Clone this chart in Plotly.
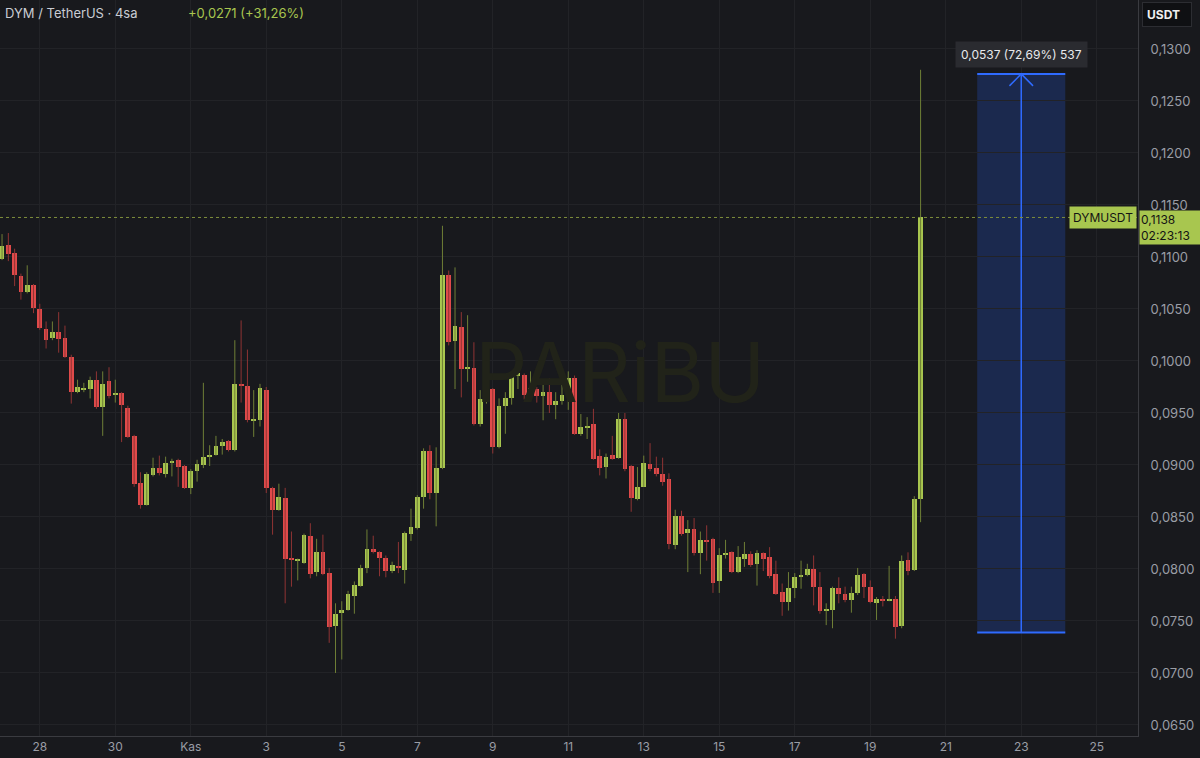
import pandas as pd
import plotly.graph_objects as go

# ---------------- data (4h candles, DYM/USDT) ----------------
start_time = "2025-10-27 00:00"
candle_hours = 4

opens = [0.1098,0.1112,0.1104,0.1082,0.1066,0.1073,0.1050,0.1031,0.1022,0.1028,
         0.1022,0.1004,0.0970,0.0972,0.0973,0.0982,0.0956,0.0981,0.0967,0.0969,
         0.0955,0.0928,0.0883,0.0862,0.0890,0.0897,0.0891,0.0902,0.0905,0.0899,
         0.0878,0.0894,0.0900,0.0908,0.0910,0.0918,0.0923,0.0914,0.0978,0.0976,
         0.0943,0.0943,0.0972,0.0878,0.0857,0.0868,0.0810,0.0808,0.0806,0.0832,
         0.0797,0.0816,0.0796,0.0745,0.0758,0.0761,0.0774,0.0784,0.0801,0.0819,
         0.0816,0.0811,0.0798,0.0803,0.0799,0.0834,0.0839,0.0869,0.0913,0.0873,
         0.0897,0.1083,0.1019,0.1033,0.0992,0.0993,0.0939,0.0963,0.0973,0.0917,
         0.0957,0.0964,0.0986,0.0987,0.0967,0.0973,0.0966,0.0970,0.0958,0.0962,
         0.0967,0.0984,0.0930,0.0936,0.0939,0.0909,0.0898,0.0910,0.0907,0.0944,
         0.0899,0.0867,0.0879,0.0901,0.0897,0.0891,0.0887,0.0823,0.0851,0.0835,
         0.0838,0.0815,0.0828,0.0829,0.0788,0.0813,0.0816,0.0797,0.0810,0.0814,
         0.0805,0.0815,0.0812,0.0795,0.0778,0.0768,0.0782,0.0792,0.0794,0.0800,
         0.0783,0.0760,0.0761,0.0782,0.0776,0.0770,0.0777,0.0795,0.0783,0.0767,
         0.0771,0.0770,0.0771,0.0745,0.0809,0.0799,0.0867]
highs = [0.1122,0.1123,0.1108,0.1084,0.1092,0.1074,0.1055,0.1038,0.1038,0.1047,
         0.1034,0.1006,0.0982,0.0979,0.0985,0.0990,0.0990,0.0994,0.0982,0.0970,
         0.0957,0.0929,0.0893,0.0893,0.0907,0.0909,0.0908,0.0906,0.0906,0.0900,
         0.0896,0.0905,0.0979,0.0919,0.0928,0.0925,0.0924,0.1020,0.1039,0.1011,
         0.0972,0.0978,0.0975,0.0879,0.0882,0.0878,0.0836,0.0810,0.0834,0.0844,
         0.0829,0.0833,0.0801,0.0767,0.0769,0.0779,0.0788,0.0804,0.0838,0.0832,
         0.0817,0.0813,0.0807,0.0826,0.0836,0.0858,0.0871,0.0916,0.0919,0.0917,
         0.1130,0.1087,0.1090,0.1047,0.1044,0.1018,0.0972,0.0981,0.0974,0.0964,
         0.0970,0.0989,0.0999,0.0988,0.0990,0.0975,0.0982,0.0983,0.0970,0.0987,
         0.0990,0.0986,0.0949,0.0946,0.0954,0.0915,0.0911,0.0928,0.0950,0.0950,
         0.0900,0.0898,0.0909,0.0921,0.0908,0.0907,0.0892,0.0857,0.0856,0.0847,
         0.0849,0.0836,0.0842,0.0830,0.0820,0.0828,0.0817,0.0822,0.0826,0.0817,
         0.0818,0.0816,0.0821,0.0808,0.0786,0.0797,0.0796,0.0808,0.0805,0.0813,
         0.0797,0.0767,0.0783,0.0792,0.0783,0.0783,0.0801,0.0796,0.0789,0.0773,
         0.0774,0.0803,0.0774,0.0813,0.0816,0.0870,0.1280]
lows = [0.1097,0.1096,0.1072,0.1059,0.1065,0.1046,0.1030,0.1012,0.1020,0.1008,
        0.1003,0.0959,0.0969,0.0970,0.0964,0.0954,0.0928,0.0964,0.0960,0.0922,
        0.0926,0.0879,0.0858,0.0861,0.0889,0.0890,0.0888,0.0889,0.0879,0.0877,
        0.0872,0.0884,0.0897,0.0899,0.0909,0.0910,0.0913,0.0913,0.0960,0.0941,
        0.0927,0.0937,0.0873,0.0833,0.0856,0.0767,0.0783,0.0789,0.0805,0.0791,
        0.0793,0.0794,0.0729,0.0700,0.0713,0.0760,0.0757,0.0783,0.0796,0.0815,
        0.0793,0.0792,0.0796,0.0796,0.0786,0.0827,0.0838,0.0858,0.0867,0.0841,
        0.0896,0.1015,0.0973,0.0965,0.0980,0.0938,0.0937,0.0959,0.0911,0.0916,
        0.0930,0.0958,0.0973,0.0963,0.0965,0.0960,0.0943,0.0950,0.0944,0.0958,
        0.0953,0.0929,0.0928,0.0925,0.0905,0.0890,0.0887,0.0905,0.0906,0.0894,
        0.0855,0.0866,0.0879,0.0894,0.0889,0.0880,0.0819,0.0819,0.0832,0.0797,
        0.0813,0.0795,0.0808,0.0777,0.0777,0.0810,0.0796,0.0796,0.0802,0.0802,
        0.0784,0.0798,0.0791,0.0775,0.0755,0.0760,0.0772,0.0781,0.0793,0.0765,
        0.0757,0.0746,0.0743,0.0767,0.0768,0.0758,0.0775,0.0772,0.0767,0.0751,
        0.0764,0.0769,0.0733,0.0743,0.0794,0.0798,0.0845]
closes = [0.1111,0.1103,0.1083,0.1066,0.1073,0.1051,0.1032,0.1020,0.1028,0.1021,
          0.1004,0.0970,0.0975,0.0974,0.0982,0.0956,0.0978,0.0966,0.0969,0.0958,
          0.0927,0.0882,0.0862,0.0891,0.0897,0.0892,0.0902,0.0903,0.0898,0.0878,
          0.0894,0.0901,0.0908,0.0910,0.0918,0.0922,0.0914,0.0978,0.0976,0.0943,
          0.0944,0.0974,0.0878,0.0857,0.0869,0.0810,0.0809,0.0809,0.0833,0.0795,
          0.0816,0.0795,0.0744,0.0757,0.0761,0.0776,0.0785,0.0801,0.0819,0.0816,
          0.0811,0.0798,0.0804,0.0801,0.0835,0.0840,0.0869,0.0913,0.0873,0.0897,
          0.1083,0.1018,0.1034,0.0992,0.0994,0.0939,0.0963,0.0973,0.0917,0.0957,
          0.0964,0.0986,0.0988,0.0967,0.0974,0.0966,0.0970,0.0958,0.0962,0.0967,
          0.0984,0.0930,0.0937,0.0937,0.0906,0.0897,0.0908,0.0906,0.0944,0.0896,
          0.0868,0.0879,0.0902,0.0896,0.0891,0.0884,0.0824,0.0851,0.0834,0.0838,
          0.0815,0.0828,0.0826,0.0787,0.0813,0.0815,0.0797,0.0812,0.0814,0.0804,
          0.0815,0.0810,0.0793,0.0776,0.0768,0.0782,0.0792,0.0794,0.0800,0.0783,
          0.0760,0.0762,0.0782,0.0776,0.0770,0.0777,0.0794,0.0783,0.0768,0.0771,
          0.0770,0.0771,0.0744,0.0808,0.0798,0.0867,0.1138]

last_price = 0.1138
symbol = "DYMUSDT"
countdown = "02:23:13"
header_title = "DYM / TetherUS · 4sa"
header_change = "+0,0271 (+31,26%)"

measure_low = 0.0739
measure_high = 0.1276
measure_start = "2025-11-21 20:00"
measure_mid = "2025-11-23 00:00"
measure_end = "2025-11-24 04:00"
measure_text = "0,0537 (72,69%) 537"

x_tick_dates = ["2025-10-28", "2025-10-30", "2025-11-01", "2025-11-03", "2025-11-05",
                "2025-11-07", "2025-11-09", "2025-11-11", "2025-11-13", "2025-11-15",
                "2025-11-17", "2025-11-19", "2025-11-21", "2025-11-23", "2025-11-25"]
x_tick_labels = ["28", "30", "Kas", "3", "5", "7", "9", "11", "13", "15", "17", "19", "21", "23", "25"]
y_tick_values = [0.0650, 0.0700, 0.0750, 0.0800, 0.0850, 0.0900, 0.0950, 0.1000,
                 0.1050, 0.1100, 0.1150, 0.1200, 0.1250, 0.1300]
y_tick_labels = [f"{v:.4f}".replace(".", ",") for v in y_tick_values]

# ---------------- styling ----------------
BG = "#18191d"
GRID = "#222327"
UP = "#a8c64f"
UP_WICK = "#6f7f36"
DOWN = "#e04a4a"
DOWN_WICK = "#8f3434"
AXIS_TXT = "#9a9da5"
FONT = "Inter"

times = pd.date_range(start=start_time, periods=len(opens), freq=f"{candle_hours}h")
bar_w = candle_hours * 3600 * 1000 * 0.76
min_body = 0.0001

up_x, up_base, up_h = [], [], []
dn_x, dn_base, dn_h = [], [], []
uw_x, uw_y, dw_x, dw_y = [], [], [], []
for t, o, h, l, c in zip(times, opens, highs, lows, closes):
    if c >= o:
        up_x.append(t); up_base.append(o); up_h.append(max(c - o, min_body))
        uw_x += [t, t, None]; uw_y += [l, h, None]
    else:
        dn_x.append(t); dn_base.append(c); dn_h.append(max(o - c, min_body))
        dw_x += [t, t, None]; dw_y += [l, h, None]

fig = go.Figure()
fig.add_trace(go.Scatter(x=uw_x, y=uw_y, mode="lines", line=dict(color=UP_WICK, width=1),
                         hoverinfo="skip", showlegend=False))
fig.add_trace(go.Scatter(x=dw_x, y=dw_y, mode="lines", line=dict(color=DOWN_WICK, width=1),
                         hoverinfo="skip", showlegend=False))
fig.add_trace(go.Bar(x=up_x, y=up_h, base=up_base, width=bar_w, marker=dict(color=UP, line=dict(width=0)),
                     showlegend=False))
fig.add_trace(go.Bar(x=dn_x, y=dn_h, base=dn_base, width=bar_w, marker=dict(color=DOWN, line=dict(width=0)),
                     showlegend=False))

# measure arrow head (open chevron)
half = pd.Timedelta(hours=7.5)
mid_t = pd.Timestamp(measure_mid)
fig.add_trace(go.Scatter(x=[mid_t - half, mid_t, mid_t + half],
                         y=[measure_high - 0.00115, measure_high, measure_high - 0.00115],
                         mode="lines", line=dict(color="#2f6bff", width=1.5),
                         hoverinfo="skip", showlegend=False))

shapes = [
    dict(type="rect", xref="x", yref="y", x0=measure_start, x1=measure_end,
         y0=measure_low, y1=measure_high, fillcolor="rgba(41,98,255,0.22)", line=dict(width=0), layer="below"),
    dict(type="line", xref="x", yref="y", x0=measure_start, x1=measure_end,
         y0=measure_high, y1=measure_high, line=dict(color="#2f6bff", width=2)),
    dict(type="line", xref="x", yref="y", x0=measure_start, x1=measure_end,
         y0=measure_low, y1=measure_low, line=dict(color="#2f6bff", width=2)),
    dict(type="line", xref="x", yref="y", x0=measure_mid, x1=measure_mid,
         y0=measure_low, y1=measure_high, line=dict(color="#2f6bff", width=1.5)),
    dict(type="line", xref="paper", yref="y", x0=0, x1=1, y0=last_price, y1=last_price,
         line=dict(color="#7f8f3c", width=1, dash="dot")),
]

PW, PH = 1138.0, 736.0
def px(x):
    return x / PW
def py(y):
    return 1 - y / PH

annotations = [
    dict(text="PARiBU", x=px(620), y=py(373), xref="paper", yref="paper", showarrow=False,
         font=dict(family=FONT, size=82, color="#212319"), xanchor="center", yanchor="middle"),
    dict(text=header_title, x=px(3), y=py(13), xref="paper", yref="paper", showarrow=False,
         font=dict(family=FONT, size=13, color="#c9ccd3"), xanchor="left", yanchor="middle"),
    dict(text=header_change, x=px(186), y=py(13), xref="paper", yref="paper", showarrow=False,
         font=dict(family=FONT, size=13, color=UP), xanchor="left", yanchor="middle"),
    dict(text=measure_text, x=measure_mid, y=py(55), xref="x", yref="paper", showarrow=False,
         font=dict(family=FONT, size=12, color="#e8e9ec"), bgcolor="#2a2b30", borderpad=5,
         xanchor="center", yanchor="middle"),
    dict(text=symbol, x=px(1137), y=last_price, xref="paper", yref="y", showarrow=False,
         font=dict(family=FONT, size=12, color="#141414"), bgcolor=UP, borderpad=3,
         xanchor="right", yanchor="middle"),
    dict(text=f"{last_price:.4f}".replace(".", ",") + "<br>" + countdown, x=px(1139),
         y=py(227), xref="paper", yref="paper", showarrow=False, align="left",
         font=dict(family=FONT, size=12, color="#141414"), bgcolor=UP, borderpad=1, width=58,
         xanchor="left", yanchor="middle"),
    dict(text="<b>USDT</b>", x=px(1142), y=py(14), xref="paper", yref="paper", showarrow=False,
         font=dict(family=FONT, size=12, color="#f0f0f0"), bgcolor="#0f1013", bordercolor="#2c2d32",
         borderwidth=1, borderpad=4, width=40, align="left", xanchor="left", yanchor="middle"),
]

fig.update_layout(
    width=1200, height=758, autosize=False,
    margin=dict(l=0, r=62, t=0, b=22),
    paper_bgcolor=BG, plot_bgcolor=BG,
    barmode="overlay", bargap=0,
    showlegend=False,
    shapes=shapes, annotations=annotations,
    font=dict(family=FONT, color=AXIS_TXT),
    xaxis=dict(type="date", range=["2025-10-26 22:42", "2025-11-26 02:14"],
               tickmode="array", tickvals=x_tick_dates, ticktext=x_tick_labels,
               showgrid=True, gridcolor=GRID, gridwidth=1, zeroline=False,
               showline=True, linecolor="#3a3b40", linewidth=1, ticks="",
               tickfont=dict(family=FONT, size=12, color=AXIS_TXT),
               rangeslider=dict(visible=False), fixedrange=True),
    yaxis=dict(side="right", range=[0.06394, 0.13471],
               tickmode="array", tickvals=y_tick_values, ticktext=y_tick_labels,
               showgrid=True, gridcolor=GRID, gridwidth=1, zeroline=False,
               showline=True, linecolor="#3a3b40", linewidth=1, ticks="",
               ticklabelstandoff=9,
               tickfont=dict(family=FONT, size=13, color=AXIS_TXT), fixedrange=True),
)

fig.write_html("out.html", config={"displayModeBar": False},
               post_script="document.body.style.margin='0';document.body.style.background='#18191d';")
